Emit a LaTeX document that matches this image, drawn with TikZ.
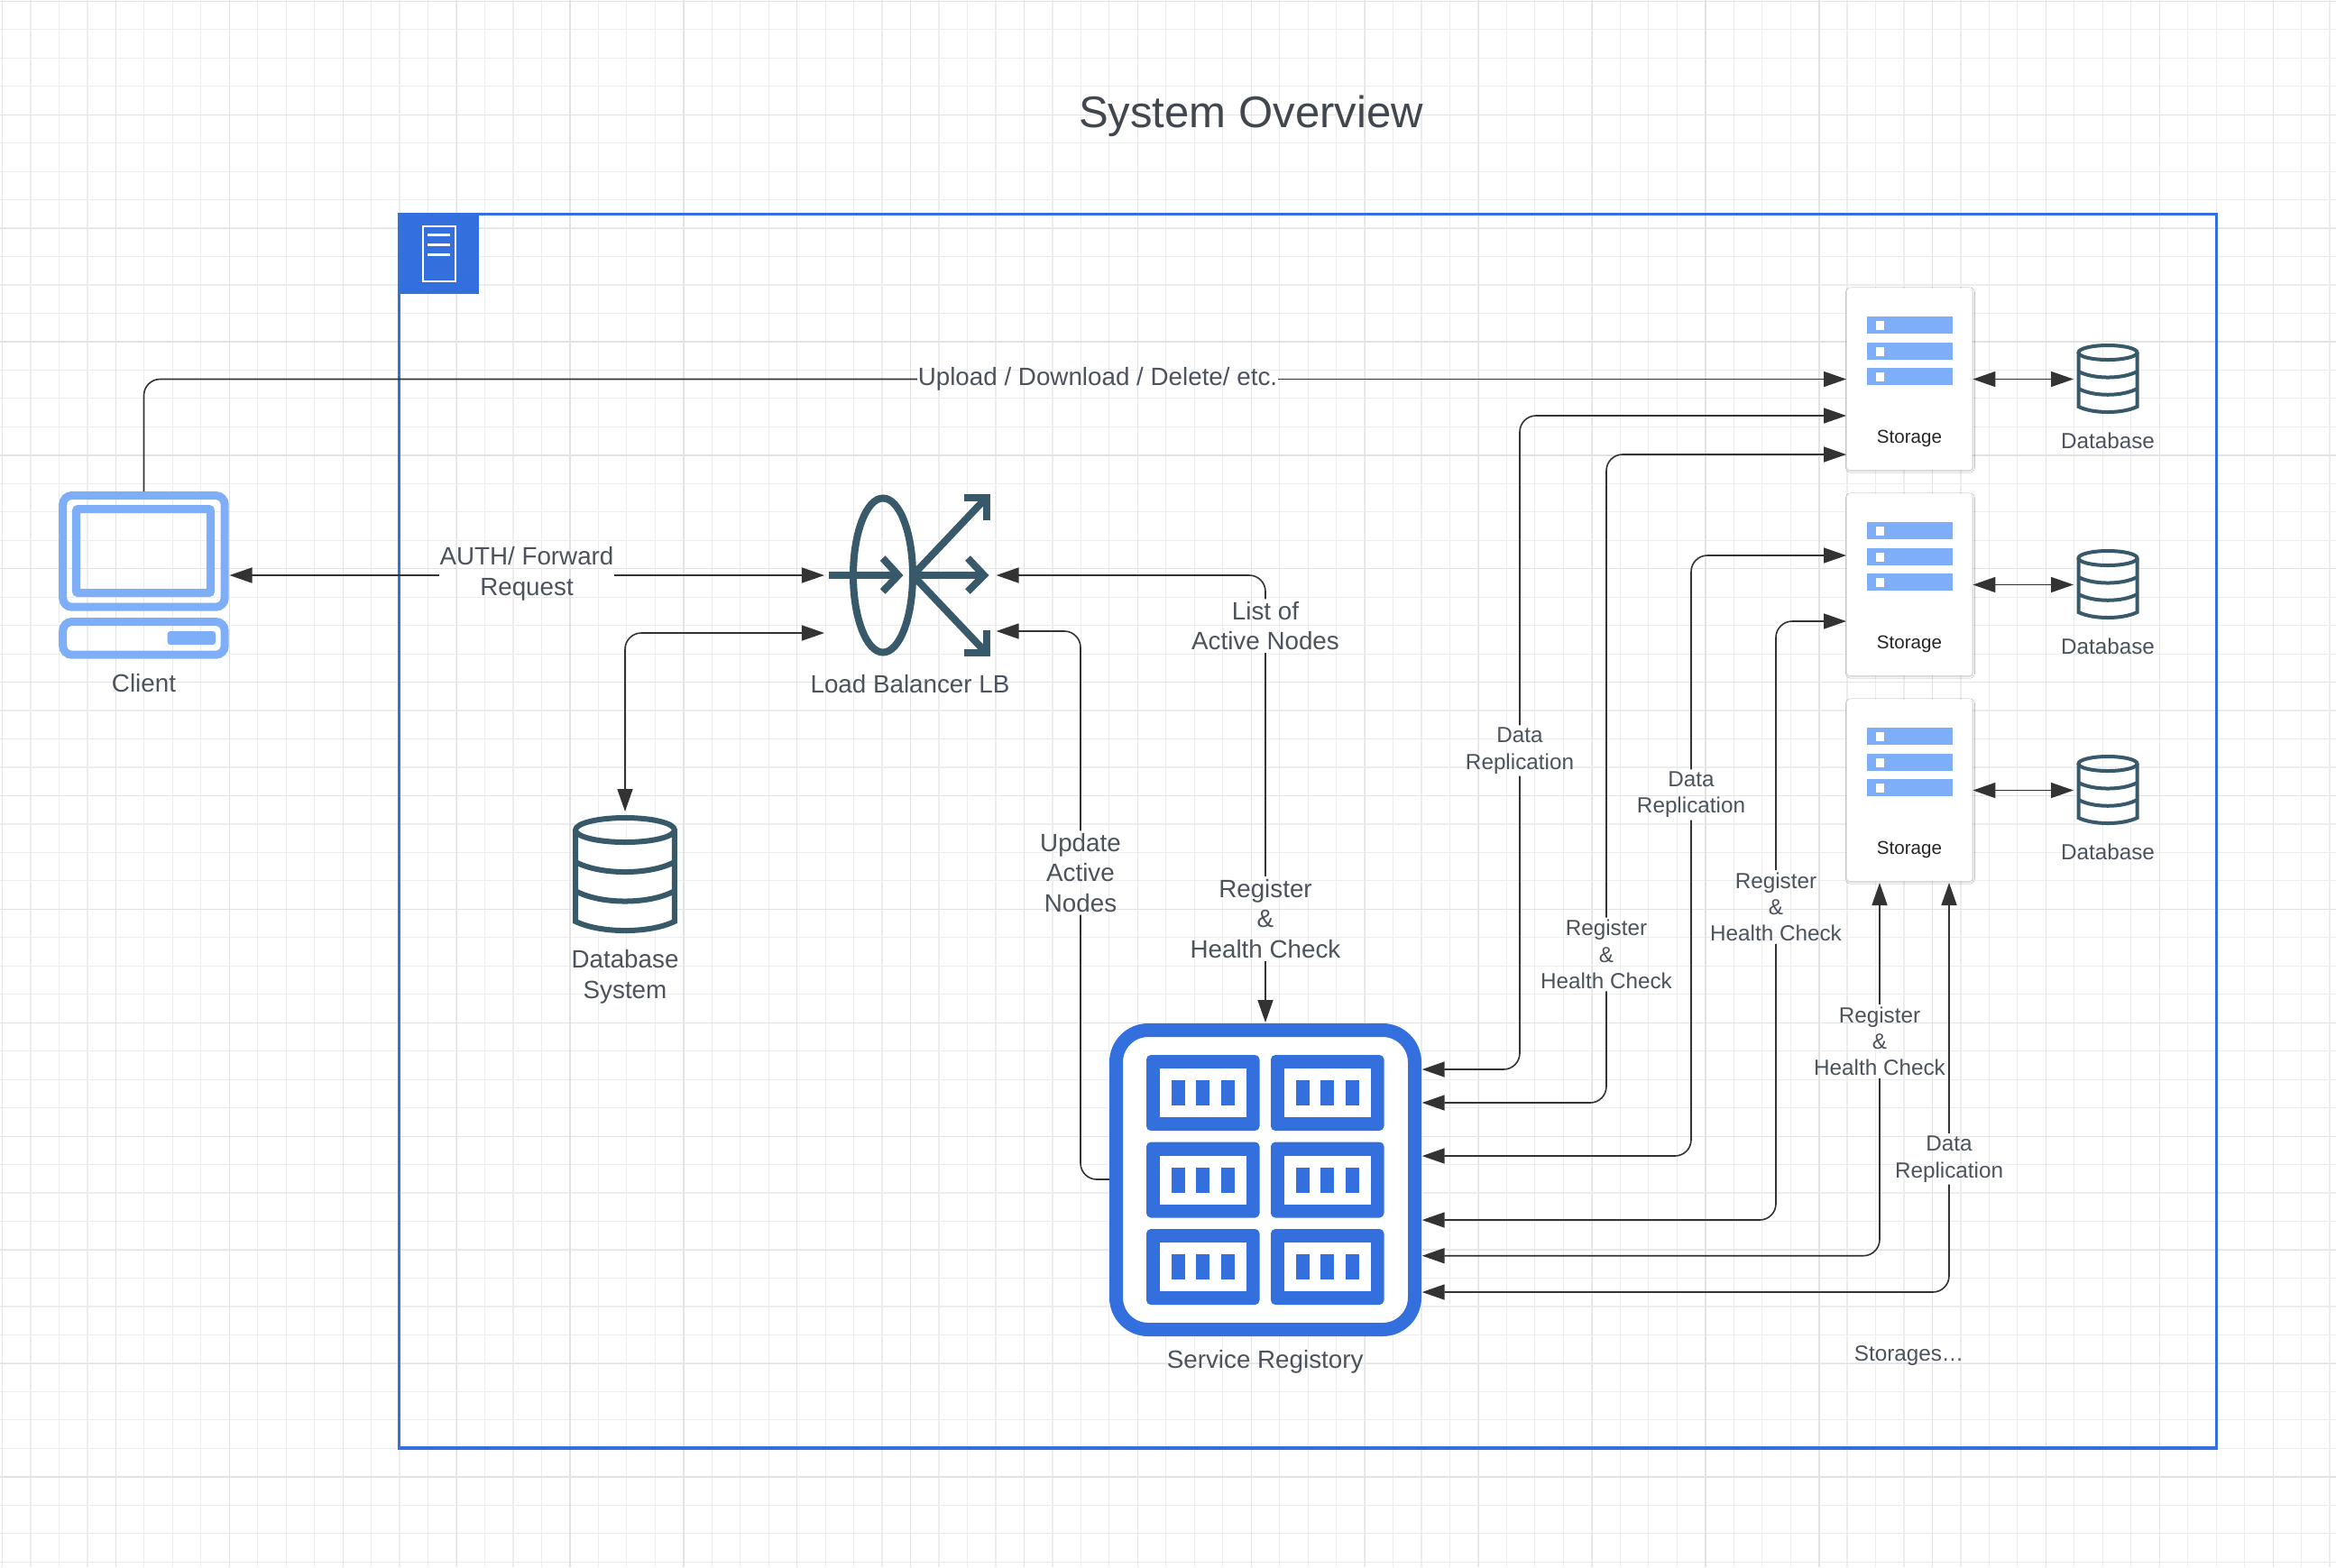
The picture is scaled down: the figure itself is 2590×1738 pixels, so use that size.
\documentclass[tikz,border=0pt]{standalone}
\usepackage{fontspec}
\setmainfont{Liberation Sans}
\usetikzlibrary{arrows.meta,shadows.blur}

\definecolor{FrameBlue}{HTML}{3370DD}
\definecolor{LightBlue}{HTML}{7DAEF7}
\definecolor{IconTeal}{HTML}{37596A}
\definecolor{TextGrey}{HTML}{4C535D}
\definecolor{LineGrey}{HTML}{333333}

\tikzset{
    EdgeStyle/.style={draw=LineGrey, line width=0.016cm, rounded corners=0.18cm,
        >={Triangle[length=0.25cm, width=0.17cm]}},
    LabelStyle/.style={text=TextGrey, align=center, inner xsep=0pt, inner ysep=0.02cm,
        font=\fontsize{7.9}{9.56}\selectfont},
    SmallLabel/.style={LabelStyle, font=\fontsize{6.9}{8.33}\selectfont},
    StorageStyle/.style={fill=white, rounded corners=0.03cm, minimum width=1.387cm,
        minimum height=2.01cm, inner sep=0pt,
        blur shadow={shadow xshift=0.006cm, shadow yshift=-0.01cm, shadow blur radius=0.02cm, shadow opacity=25}},
    CellStyle/.style={fill=FrameBlue, rounded corners=0.05cm},
}

\newcommand{\DbIcon}[4]{
    \begin{scope}[shift={(#1,#2)}, scale=#3]
        \fill[white] (-32.5,0) -- (-32.5,60) .. controls (-16,68) and (16,68) .. (32.5,60) -- (32.5,0)
            arc[start angle=0, end angle=180, x radius=32.5, y radius=8];
        \draw[IconTeal, line width=#4] (0,0) ellipse [x radius=32.5, y radius=8];
        \draw[IconTeal, line width=#4] (-32.5,0) -- (-32.5,60) .. controls (-16,68) and (16,68) .. (32.5,60) -- (32.5,0);
        \draw[IconTeal, line width=#4] (-32.5,21) .. controls (-16,29.7) and (16,29.7) .. (32.5,21);
        \draw[IconTeal, line width=#4] (-32.5,40) .. controls (-16,49) and (16,49) .. (32.5,40);
    \end{scope}
}

\begin{document}
\begin{tikzpicture}[x=0.01cm, y=-0.01cm]
    \useasboundingbox (0,0) rectangle (2590,1738);
    \fill[white] (0,0) rectangle (2590,1738);

    \foreach \i in {0,...,82}
        \draw[black!7, line width=0.012cm] ({2.5+31.47*\i},0) -- ({2.5+31.47*\i},1738);
    \foreach \i in {0,...,55}
        \draw[black!7, line width=0.012cm] (0,{1.3+31.47*\i}) -- (2590,{1.3+31.47*\i});
    \foreach \i in {0,...,20}
        \draw[black!11, line width=0.012cm] ({2.5+125.9*\i},0) -- ({2.5+125.9*\i},1738);
    \foreach \i in {0,...,13}
        \draw[black!11, line width=0.012cm] (0,{1.3+125.9*\i}) -- (2590,{1.3+125.9*\i});

    \node[text=TextGrey!85!black, font=\fontsize{13.95}{17}\selectfont] (T) at (1387,129) {System Overview};

    \draw[FrameBlue, line width=0.032cm] (442.6,237.6) rectangle (2457.4,1606);
    \fill[FrameBlue] (441,236) rectangle (531,326);
    \draw[white, line width=0.025cm] (469,251) rectangle (505,312);
    \foreach \y in {260,271,282}
        \draw[white, line width=0.03cm] (474,\y) -- (499,\y);

    % client
    \begin{scope}[LightBlue, line width=0.09cm]
        \draw[rounded corners=0.1cm] (69.7,549.5) rectangle (249.2,673.2);
        \draw[rounded corners=0.02cm] (84.5,564.5) rectangle (233.5,657.5);
        \draw[rounded corners=0.1cm] (69.7,689.5) rectangle (249.2,726.2);
        \fill[rounded corners=0.03cm] (185.7,700) rectangle (239,715);
    \end{scope}
    \node[LabelStyle] (C) at (159.5,758) {Client};
    \coordinate (Ct) at (159.5,545);
    \coordinate (Cr) at (254.5,638);

    % load balancer
    \begin{scope}[IconTeal, line width=0.08cm]
        \draw (979,638) ellipse [x radius=33, y radius=85.5];
        \draw (919.4,638) -- (996,638);
        \draw[miter limit=10] (978.7,619) -- (996,638) -- (978.7,656);
        \draw (1012,638) -- (1091,638);
        \draw[miter limit=10] (1073,619) -- (1091,638) -- (1073,656);
        \draw (1012,638) -- (1093.5,552);
        \draw[miter limit=10] (1069.4,552) -- (1093.5,552) -- (1093.5,576.7);
        \draw (1012,638) -- (1093.5,724);
        \draw[miter limit=10] (1069.4,724) -- (1093.5,724) -- (1093.5,699);
    \end{scope}
    \node[LabelStyle] (LB) at (1009,759) {Load Balancer LB};
    \coordinate (LBa) at (914,638);
    \coordinate (LBb) at (914,702);
    \coordinate (LBc) at (1104.6,638);
    \coordinate (LBd) at (1104.6,700);

    % database system
    \DbIcon{693}{920.5}{1.69}{0.06cm}
    \node[LabelStyle] (DB) at (693,1083.5) {Database\\System};
    \coordinate (DBt) at (693,900);

    % registry
    \draw[FrameBlue, fill=white, line width=0.15cm, rounded corners=0.355cm] (1237.5,1142.5) rectangle (1568.5,1474.5);
    \foreach \cx in {1271,1409}
        \foreach \cy in {1170,1266.5,1363} {
            \fill[CellStyle] (\cx,\cy) rectangle (\cx+125.5,\cy+84);
            \fill[white] (\cx+15,\cy+15) rectangle (\cx+110.5,\cy+69);
            \foreach \bx in {28,55,83}
                \fill[FrameBlue] (\cx+\bx,\cy+28) rectangle (\cx+\bx+15,\cy+56);
        }
    \node[LabelStyle] (SR) at (1402.7,1510.5) {Service Registory};
    \coordinate (SRt) at (1403,1134);
    \coordinate (SRl) at (1230,1308);
    \coordinate (SRa) at (1576.7,1186);
    \coordinate (SRb) at (1576.7,1223);
    \coordinate (SRc) at (1576.7,1282);
    \coordinate (SRd) at (1576.7,1353);
    \coordinate (SRe) at (1576.7,1392.7);
    \coordinate (SRf) at (1576.7,1433);

    % storages
    \foreach \n/\y in {1/320,2/548,3/776} {
        \node[StorageStyle] (S\n) at (2117.3,\y+100.5) {};
        \foreach \b in {31,60,88} {
            \fill[LightBlue] (2070,\y+\b) rectangle (2165,\y+\b+19);
            \fill[white] (2080,\y+\b+5) rectangle (2089,\y+\b+14.5);
        }
        \node[text=black!85, inner sep=0pt, font=\fontsize{5.85}{7}\selectfont] (ST\n) at (2117,\y+166) {Storage};
        \DbIcon{2337}{\y+71}{1}{0.04cm}
        \node[SmallLabel] (D\n) at (2337,\y+169) {Database};
        \coordinate (DI\n) at (2299,\y+100.5);
        \draw[EdgeStyle, <->] (S\n.east) -- (DI\n);
    }
    \coordinate (Sa) at (2047,420.5);
    \coordinate (Sb) at (2047,461);
    \coordinate (Sc) at (2047,504);
    \coordinate (Sd) at (2047,616);
    \coordinate (Se) at (2047,689);
    \coordinate (Sf) at (2084,979);
    \coordinate (Sg) at (2161,979);
    \node[SmallLabel] (More) at (2116.5,1504) {Storages…};

    % edge labels
    \node[LabelStyle] (L1) at (1217,420.5) {Upload / Download / Delete/ etc.};
    \node[LabelStyle] (L2) at (584,636.5) {AUTH/ Forward\\Request};
    \node[LabelStyle] (L3) at (1403,694) {List of\\Active Nodes};
    \node[LabelStyle] (L4) at (1403,1019) {Register\\\&\\Health Check};
    \node[LabelStyle] (L5) at (1198,968) {Update\\Active\\Nodes};
    \node[SmallLabel] (R1) at (1685,832.5) {Data\\Replication};
    \node[SmallLabel] (R2) at (1781,1058.5) {Register\\\&\\Health Check};
    \node[SmallLabel] (R3) at (1875,881.5) {Data\\Replication};
    \node[SmallLabel] (R4) at (1969,1006) {Register\\\&\\Health Check};
    \node[SmallLabel] (R5) at (2084,1155) {Register\\\&\\Health Check};
    \node[SmallLabel] (R6) at (2161,1285.5) {Data\\Replication};

    % edges
    \draw[EdgeStyle] (Ct) |- (L1);
    \draw[EdgeStyle, ->] (L1) -- (Sa);
    \draw[EdgeStyle, <-] (Cr) -- (Cr -| L2.west);
    \draw[EdgeStyle, ->] (Cr -| L2.east) -- (LBa);
    \draw[EdgeStyle, <->] (DBt) |- (LBb);
    \draw[EdgeStyle, ->] (L3) |- (LBc);
    \draw[EdgeStyle] (L3) -- (L4);
    \draw[EdgeStyle, ->] (L4) -- (SRt);
    \draw[EdgeStyle] (SRl) -| (L5);
    \draw[EdgeStyle, ->] (L5) |- (LBd);
    \draw[EdgeStyle, <-] (SRa) -| (R1);
    \draw[EdgeStyle, ->] (R1) |- (Sb);
    \draw[EdgeStyle, <-] (SRb) -| (R2);
    \draw[EdgeStyle, ->] (R2) |- (Sc);
    \draw[EdgeStyle, <-] (SRc) -| (R3);
    \draw[EdgeStyle, ->] (R3) |- (Sd);
    \draw[EdgeStyle, <-] (SRd) -| (R4);
    \draw[EdgeStyle, ->] (R4) |- (Se);
    \draw[EdgeStyle, <-] (SRe) -| (R5);
    \draw[EdgeStyle, ->] (R5) -- (Sf);
    \draw[EdgeStyle, <-] (SRf) -| (R6);
    \draw[EdgeStyle, ->] (R6) -- (Sg);
\end{tikzpicture}
\end{document}
